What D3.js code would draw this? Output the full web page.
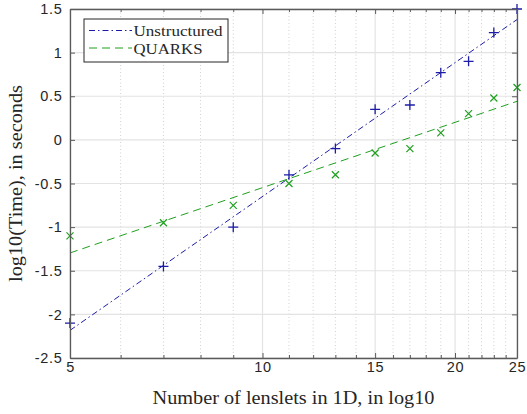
<!DOCTYPE html>
<html>
<head>
<meta charset="utf-8">
<script src="https://cdn.jsdelivr.net/npm/d3@7"></script>
<style>
  html, body { margin: 0; padding: 0; background: #fff; }
  svg { display: block; }
</style>
</head>
<body>
<svg id="chart" width="527" height="414"></svg>
<script>
// Runtime (log10 seconds) against the number of lenslets per dimension
const lenslets = [5, 7, 9, 11, 13, 15, 17, 19, 21, 23, 25];
const unstructured = [-2.1, -1.45, -1.0, -0.4, -0.1, 0.35, 0.4, 0.77, 0.9, 1.23, 1.5];
const quarks = [-1.1, -0.95, -0.75, -0.5, -0.4, -0.15, -0.1, 0.08, 0.3, 0.48, 0.6];

const seriesNames = ["Unstructured", "QUARKS"];
const xTickLabels = [5, 10, 15, 20, 25];
const xMinorTicks = d3.range(5, 26);
const yTickLabels = [-2.5, -2, -1.5, -1, -0.5, 0, 0.5, 1, 1.5];

const margin = { left: 70, right: 10, top: 9, bottom: 56 };
const W = 527, H = 414;
const iw = W - margin.left - margin.right;
const ih = H - margin.top - margin.bottom;

const blue = "#1c1ca8";
const green = "#1f9f1f";

const svg = d3.select("#chart");
const g = svg.append("g").attr("transform", `translate(${margin.left},${margin.top})`);

const x = d3.scaleLog().domain([5, 25]).range([0, iw]);
const y = d3.scaleLinear().domain([-2.5, 1.5]).range([ih, 0]);

// Grid: dotted minor verticals, solid major verticals and horizontals
g.append("g").selectAll("line")
  .data(xMinorTicks.filter(d => !xTickLabels.includes(d)))
  .join("line")
  .attr("x1", d => x(d)).attr("x2", d => x(d))
  .attr("y1", 0).attr("y2", ih)
  .attr("stroke", "#c4c4c4").attr("stroke-width", 0.8)
  .attr("stroke-dasharray", "1,2.5");

g.append("g").selectAll("line")
  .data(xTickLabels)
  .join("line")
  .attr("x1", d => x(d)).attr("x2", d => x(d))
  .attr("y1", 0).attr("y2", ih)
  .attr("stroke", "#e3e3e3").attr("stroke-width", 1.2);

g.append("g").selectAll("line")
  .data(yTickLabels)
  .join("line")
  .attr("x1", 0).attr("x2", iw)
  .attr("y1", d => y(d)).attr("y2", d => y(d))
  .attr("stroke", "#e3e3e3").attr("stroke-width", 1.2);

// Least-squares fit of log10(time) against log10(lenslets)
function fit(xs, ys) {
  const lx = xs.map(Math.log10);
  const mx = d3.mean(lx), my = d3.mean(ys);
  let sxy = 0, sxx = 0;
  lx.forEach((v, i) => { sxy += (v - mx) * (ys[i] - my); sxx += (v - mx) * (v - mx); });
  const b = sxy / sxx, a = my - b * mx;
  return v => a + b * Math.log10(v);
}

const series = [
  { name: seriesNames[0], values: unstructured, color: blue, dash: "6,3,1.5,3", marker: "plus" },
  { name: seriesNames[1], values: quarks, color: green, dash: "8,5", marker: "cross" }
];

const line = d3.line().x(d => x(d[0])).y(d => y(d[1]));
const domainX = x.domain();

series.forEach(s => {
  const f = fit(lenslets, s.values);
  g.append("path")
    .datum(domainX.map(v => [v, f(v)]))
    .attr("d", line)
    .attr("fill", "none")
    .attr("stroke", s.color)
    .attr("stroke-width", 1)
    .attr("stroke-dasharray", s.dash);
});

// Markers: "+" for the unstructured runs, "x" for QUARKS
const pts = g.append("g");
series.forEach(s => {
  lenslets.forEach((v, i) => {
    const cx = x(v), cy = y(s.values[i]);
    if (s.marker === "plus") {
      const r = 5;
      pts.append("path")
        .attr("d", `M${cx - r},${cy}H${cx + r}M${cx},${cy - r}V${cy + r}`)
        .attr("stroke", s.color).attr("stroke-width", 1.3).attr("fill", "none");
    } else {
      const r = 3.5;
      pts.append("path")
        .attr("d", `M${cx - r},${cy - r}L${cx + r},${cy + r}M${cx - r},${cy + r}L${cx + r},${cy - r}`)
        .attr("stroke", s.color).attr("stroke-width", 1.2).attr("fill", "none");
    }
  });
});

// Axes (ticks point inward, box on all sides)
const axisColor = "#5a5a5a";
const tickFont = "'Liberation Sans', Arial, Helvetica, sans-serif";

function styleAxis(sel) {
  sel.select(".domain").attr("stroke", axisColor).attr("stroke-width", 1.3);
  sel.selectAll(".tick line").attr("stroke", axisColor).attr("stroke-width", 1);
  sel.selectAll(".tick text").attr("fill", "#262626")
    .style("font-family", tickFont).style("font-size", "14.5px")
    .style("letter-spacing", "0.7px");
}

function minorLen(d) { return xTickLabels.includes(d) ? -5 : -3; }

const xb = g.append("g").attr("transform", `translate(0,${ih})`)
  .call(d3.axisBottom(x).tickValues(xMinorTicks).tickSizeOuter(0).tickSizeInner(-5).tickPadding(4)
    .tickFormat(d => xTickLabels.includes(d) ? String(d) : ""));
xb.selectAll(".tick line").attr("y2", d => minorLen(d));
styleAxis(xb);

const xt = g.append("g")
  .call(d3.axisTop(x).tickValues(xMinorTicks).tickSizeOuter(0).tickSizeInner(-5).tickFormat(""));
xt.selectAll(".tick line").attr("y2", d => -minorLen(d));
styleAxis(xt);

const yl = g.append("g")
  .call(d3.axisLeft(y).tickValues(yTickLabels).tickSizeOuter(0).tickSizeInner(-5).tickPadding(7.5)
    .tickFormat(d => String(d)));
styleAxis(yl);

const yr = g.append("g").attr("transform", `translate(${iw},0)`)
  .call(d3.axisRight(y).tickValues(yTickLabels).tickSizeOuter(0).tickSizeInner(-5).tickFormat(""));
styleAxis(yr);

// Axis titles
const serif = "'Liberation Serif', 'Times New Roman', serif";
g.append("text")
  .attr("x", iw / 2).attr("y", ih + 46)
  .attr("text-anchor", "middle")
  .attr("textLength", 282).attr("lengthAdjust", "spacingAndGlyphs")
  .style("font-family", serif).style("font-size", "18px").attr("fill", "#262626")
  .text("Number of lenslets in 1D, in log10");

g.append("text")
  .attr("transform", `translate(${-48.5},${ih / 2}) rotate(-90)`)
  .attr("text-anchor", "middle")
  .attr("textLength", 197).attr("lengthAdjust", "spacingAndGlyphs")
  .style("font-family", serif).style("font-size", "18px").attr("fill", "#262626")
  .text("log10(Time), in seconds");

// Legend
const lg = g.append("g").attr("transform", `translate(${84 - margin.left},${19 - margin.top})`);
lg.append("rect").attr("width", 144).attr("height", 43)
  .attr("fill", "#fff").attr("stroke", "#262626").attr("stroke-width", 1);
series.forEach((s, i) => {
  const ly = 11.5 + i * 17.5;
  lg.append("line").attr("x1", 5).attr("x2", 48).attr("y1", ly).attr("y2", ly)
    .attr("stroke", s.color).attr("stroke-width", 1).attr("stroke-dasharray", s.dash);
  lg.append("text").attr("x", 49.5).attr("y", ly + 5.5)
    .attr("textLength", s.name === "Unstructured" ? 89 : 69).attr("lengthAdjust", "spacingAndGlyphs")
    .style("font-family", serif).style("font-size", "15px").attr("fill", "#262626")
    .text(s.name);
});
</script>
</body>
</html>
